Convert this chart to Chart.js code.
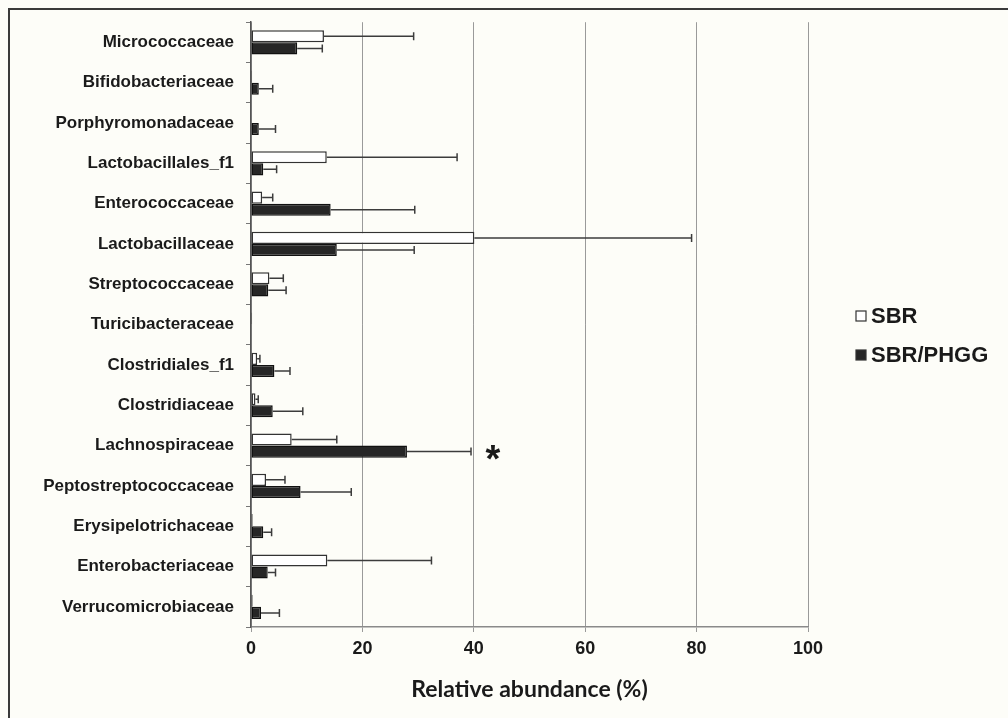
<!DOCTYPE html>
<html>
<head>
<meta charset="utf-8">
<script src="https://cdn.jsdelivr.net/npm/chart.js@4/dist/chart.umd.min.js"></script>
<style>
  html, body { margin: 0; padding: 0; background: #fdfdf8; }
  #wrap { width: 1008px; height: 718px; position: relative; }
</style>
</head>
<body>
<div id="wrap"><canvas id="chart-abundance"></canvas></div>
<script>
var families = [
  "Micrococcaceae", "Bifidobacteriaceae", "Porphyromonadaceae", "Lactobacillales_f1",
  "Enterococcaceae", "Lactobacillaceae", "Streptococcaceae", "Turicibacteraceae",
  "Clostridiales_f1", "Clostridiaceae", "Lachnospiraceae", "Peptostreptococcaceae",
  "Erysipelotrichaceae", "Enterobacteriaceae", "Verrucomicrobiaceae"
];
var sbr = [13.1, 0.2, 0, 13.6, 2.0, 40.1, 3.3, 0.2, 1.1, 0.8, 7.3, 2.7, 0.3, 13.7, 0.3];
var sbrErr = [16.1, 0, 0, 23.4, 1.9, 39.0, 2.5, 0, 0.5, 0.5, 8.1, 3.4, 0, 18.7, 0];
var phgg = [8.3, 1.4, 1.4, 2.2, 14.3, 15.4, 3.1, 0.1, 4.2, 3.9, 28.0, 8.9, 2.2, 3.0, 1.8];
var phggErr = [4.5, 2.5, 3.0, 2.4, 15.1, 13.9, 3.2, 0, 2.8, 5.4, 11.5, 9.1, 1.5, 1.4, 3.3];
var xTicks = [0, 20, 40, 60, 80, 100];
var significant = ["Lachnospiraceae"];

var errors = [sbrErr, phggErr];

// background + frame lines (only top and left show in the picture)
var backdrop = {
  id: "backdrop",
  beforeDraw: function (chart) {
    var c = chart.ctx;
    c.save();
    c.fillStyle = "#fdfdf8";
    c.fillRect(0, 0, chart.width, chart.height);
    c.strokeStyle = "#3a3a3a";
    c.lineWidth = 2;
    c.beginPath();
    c.moveTo(9, chart.height);
    c.lineTo(9, 9);
    c.lineTo(chart.width, 9);
    c.stroke();
    c.restore();
  },
};

// one-sided error bars with caps
var errorBars = {
  id: "errorBars",
  afterDatasetsDraw: function (chart) {
    var c = chart.ctx;
    var xs = chart.scales.x;
    c.save();
    c.strokeStyle = "#3c3c3c";
    c.lineWidth = 1.5;
    chart.data.datasets.forEach(function (ds, di) {
      var meta = chart.getDatasetMeta(di);
      meta.data.forEach(function (bar, i) {
        var e = errors[di][i];
        if (!e) return;
        var x0 = bar.x;
        var x1 = xs.getPixelForValue(ds.data[i] + e);
        c.beginPath();
        c.moveTo(x0, bar.y);
        c.lineTo(x1, bar.y);
        c.moveTo(x1, bar.y - 4);
        c.lineTo(x1, bar.y + 4);
        c.stroke();
      });
    });
    c.restore();
  },
};

// asterisk + legend on the right
var extras = {
  id: "extras",
  afterDraw: function (chart) {
    var c = chart.ctx;
    var xs = chart.scales.x;
    var meta = chart.getDatasetMeta(1);
    c.save();
    c.fillStyle = "#1a1a1a";
    c.font = "bold 38px 'Liberation Sans', Arial, sans-serif";
    c.textAlign = "center";
    c.textBaseline = "alphabetic";
    significant.forEach(function (name) {
      var i = families.indexOf(name);
      var bar = meta.data[i];
      var x = xs.getPixelForValue(phgg[i] + phggErr[i]) + 22;
      c.fillText("*", x, bar.y + 20);
    });

    c.font = "bold 22px 'Liberation Sans', Arial, sans-serif";
    c.textAlign = "left";
    c.textBaseline = "middle";
    var rows = [316, 355];
    chart.data.datasets.forEach(function (ds, di) {
      var y = rows[di];
      c.fillStyle = ds.backgroundColor;
      c.strokeStyle = "#333";
      c.lineWidth = 1.2;
      c.fillRect(856, y - 5, 10, 10);
      c.strokeRect(856, y - 5, 10, 10);
      c.fillStyle = "#1a1a1a";
      c.fillText(ds.label, 871, y + 1);
    });
    c.restore();
  },
};

var ctx = document.getElementById("chart-abundance").getContext("2d");

new Chart(ctx, {
  type: "bar",
  data: {
    labels: families,
    datasets: [
      {
        label: "SBR",
        data: sbr,
        backgroundColor: "#ffffff",
        borderColor: "#333333",
        borderWidth: 1.5,
        borderSkipped: false,
      },
      {
        label: "SBR/PHGG",
        data: phgg,
        backgroundColor: "#262626",
        borderColor: "#111111",
        borderWidth: 1.5,
        borderSkipped: false,
      },
    ],
  },
  options: {
    indexAxis: "y",
    responsive: true,
    maintainAspectRatio: false,
    animation: false,
    categoryPercentage: 0.6,
    barPercentage: 1.0,
    layout: {
      padding: { top: 19, right: 200, left: 0, bottom: 0 },
    },
    plugins: {
      legend: { display: false },
      tooltip: { enabled: false },
    },
    scales: {
      x: {
        min: 0,
        max: 100,
        afterFit: function (scale) {
          scale.height = 91;
        },
        afterBuildTicks: function (scale) {
          scale.ticks = xTicks.map(function (v) { return { value: v }; });
        },
        grid: {
          display: true,
          drawOnChartArea: true,
          drawTicks: true,
          tickLength: 5,
          color: "#9a9a9a",
          lineWidth: 1,
        },
        border: { display: true, color: "#8a8a8a", width: 1.5 },
        ticks: {
          padding: 6,
          color: "#1a1a1a",
          maxRotation: 0,
          font: { size: 18, weight: "bold", family: "'Liberation Sans', Arial, sans-serif" },
        },
        title: {
          display: true,
          text: "Relative abundance (%)",
          color: "#1a1a1a",
          padding: { top: 0, bottom: 15 },
          font: { size: 23, weight: "bold", family: "Lato, 'Open Sans', sans-serif" },
        },
      },
      y: {
        afterFit: function (scale) {
          scale.width = 251;
        },
        grid: {
          display: true,
          drawOnChartArea: false,
          drawTicks: true,
          tickLength: 5,
          color: "#777777",
        },
        border: { display: true, color: "#555555", width: 1.5 },
        ticks: {
          padding: 12,
          color: "#1a1a1a",
          autoSkip: false,
          font: { size: 17, weight: "bold", family: "'Liberation Sans', Arial, sans-serif" },
        },
      },
    },
  },
  plugins: [backdrop, errorBars, extras],
});
</script>
</body>
</html>
